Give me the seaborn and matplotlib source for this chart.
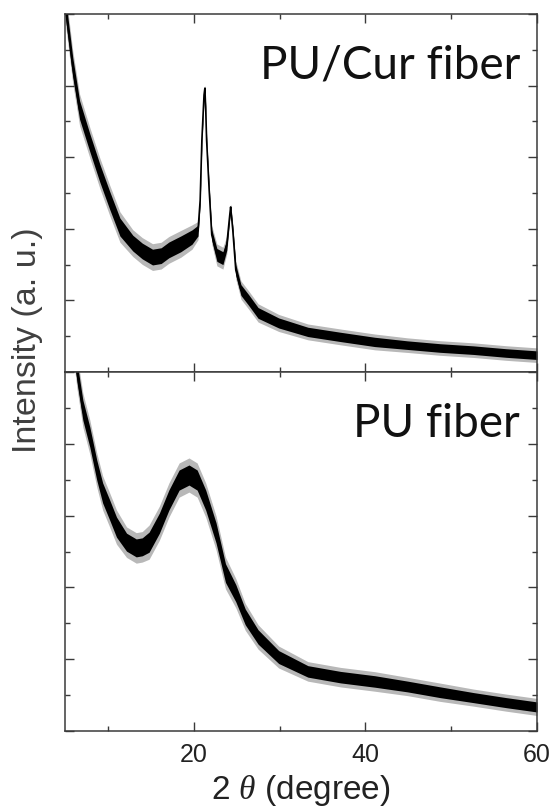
import matplotlib
matplotlib.use("Agg")
import matplotlib.pyplot as plt
import seaborn as sns
import pandas as pd
import numpy as np
from matplotlib.ticker import MultipleLocator

# PU/Cur fiber: 2theta, mean intensity, noise half-spread
cur_theta = [5.0, 5.2, 5.9, 6.7, 7.9, 9.05, 10.2, 11.4, 12.9, 14.0, 15.2, 16.2,
             17.1, 18.5, 19.8, 20.5, 20.75, 20.95, 21.2, 21.3, 21.4, 21.5, 21.8,
             22.1, 22.7, 23.4, 23.85, 24.2, 24.3, 24.55, 24.9, 25.5, 26.4, 27.5,
             29.9, 33.3, 37.1, 41.1, 44.9, 48.7, 52.6, 56.4, 60.0]
cur_int = [10.3, 9.9, 8.52, 7.32, 6.4, 5.56, 4.8, 4.05, 3.6, 3.38, 3.21, 3.25,
           3.41, 3.58, 3.77, 3.95, 4.8, 6.48, 7.74, 7.93, 7.32, 6.48, 5.08,
           3.83, 3.27, 3.18, 3.55, 4.39, 4.61, 3.97, 2.85, 2.29, 2.01, 1.65,
           1.37, 1.12, 0.98, 0.84, 0.75, 0.67, 0.61, 0.53, 0.47]
cur_spread = [0.28, 0.28, 0.27, 0.26, 0.25, 0.25, 0.25, 0.25, 0.22, 0.22, 0.22, 0.22,
              0.22, 0.22, 0.2, 0.15, 0.1, 0.1, 0.08, 0.05, 0.08, 0.1, 0.1,
              0.15, 0.18, 0.18, 0.15, 0.1, 0.05, 0.1, 0.15, 0.15, 0.15, 0.15,
              0.14, 0.13, 0.13, 0.13, 0.12, 0.12, 0.12, 0.12, 0.12]

# PU fiber
pu_theta = [5.0, 6.0, 6.4, 7.08, 7.89, 8.7, 9.39, 10.2, 11.0, 12.17, 13.3, 14.0,
            14.8, 16.0, 17.1, 18.3, 19.45, 20.4, 21.4, 22.6, 23.7, 24.9, 26.0,
            27.5, 29.9, 33.3, 37.1, 41.1, 44.9, 48.7, 52.6, 56.4, 60.0]
pu_int = [12.5, 10.8, 10.0, 8.94, 8.19, 7.27, 6.63, 6.16, 5.68, 5.26, 5.1, 5.13,
          5.26, 5.79, 6.43, 6.99, 7.13, 6.99, 6.43, 5.52, 4.4, 3.84, 3.18,
          2.62, 2.06, 1.66, 1.5, 1.38, 1.24, 1.08, 0.93, 0.79, 0.67]
pu_spread = [0.28, 0.28, 0.28, 0.28, 0.28, 0.28, 0.28, 0.28, 0.28, 0.25, 0.25, 0.25,
             0.28, 0.28, 0.28, 0.28, 0.28, 0.28, 0.28, 0.28, 0.26, 0.24, 0.22,
             0.2, 0.18, 0.16, 0.16, 0.16, 0.15, 0.15, 0.14, 0.14, 0.14]

panels = [("PU/Cur fiber", cur_theta, cur_int, cur_spread),
          ("PU fiber", pu_theta, pu_int, pu_spread)]

sns.set_theme(style="ticks")
plt.rcParams['font.family'] = ['Liberation Sans', 'DejaVu Sans']
plt.rcParams['mathtext.fontset'] = 'custom'
plt.rcParams['mathtext.it'] = 'Liberation Serif:italic'

fig = plt.figure(figsize=(5.53, 8.09), dpi=100)
left, width = 65 / 553, 472 / 553
ax_top = fig.add_axes([left, 1 - 372 / 809, width, 358 / 809])
ax_bot = fig.add_axes([left, 1 - 731 / 809, width, 359 / 809])

frame = '#3a3a3a'
for ax, (name, th, inten, spr) in zip([ax_top, ax_bot], panels):
    df = pd.DataFrame({'theta': th, 'intensity': inten, 'spread': spr})
    # outer fringe of noise spikes, then the dense noise core
    ax.fill_between(df['theta'], df['intensity'] - 1.7 * df['spread'],
                    df['intensity'] + 1.7 * df['spread'], color='black', alpha=0.28, lw=0)
    ax.fill_between(df['theta'], df['intensity'] - df['spread'],
                    df['intensity'] + df['spread'], color='black', lw=0)
    sns.lineplot(data=df, x='theta', y='intensity', color='black', lw=1.2, ax=ax)
    ax.set_xlim(5, 60)
    ax.set_ylim(0, 10)
    ax.xaxis.set_major_locator(MultipleLocator(20))
    ax.xaxis.set_minor_locator(MultipleLocator(10))
    ax.yaxis.set_major_locator(MultipleLocator(2))
    ax.yaxis.set_minor_locator(MultipleLocator(1))
    ax.tick_params(which='both', direction='in', top=True, right=True,
                   color=frame, width=1.0, labelleft=False)
    ax.tick_params(which='major', length=6.5)
    ax.tick_params(which='minor', length=3.5)
    for s in ax.spines.values():
        s.set_color(frame)
        s.set_linewidth(1.1)
    ax.set_xlabel('')
    ax.set_ylabel('')
    ax.text(0.964, 0.82, name, transform=ax.transAxes, ha='right', va='baseline',
            fontsize=33, family=['Lato', 'DejaVu Sans'], color='#111111')

ax_top.tick_params(labelbottom=False)
ax_bot.tick_params(axis='x', labelsize=18, pad=9, labelcolor='#222222')
ax_bot.set_xlabel(r'2 $\it{\theta}$ (degree)', fontsize=24, color='#222222')
ax_bot.xaxis.label.set_verticalalignment('baseline')
ax_bot.xaxis.set_label_coords(0.5, (731 - 799) / 359)

fig.text(0.05, 1 - 340 / 809, 'Intensity (a. u.)', rotation=90, ha='center',
         va='center', fontsize=24.5, color='#404040')

fig.savefig('out.png', dpi=100)
